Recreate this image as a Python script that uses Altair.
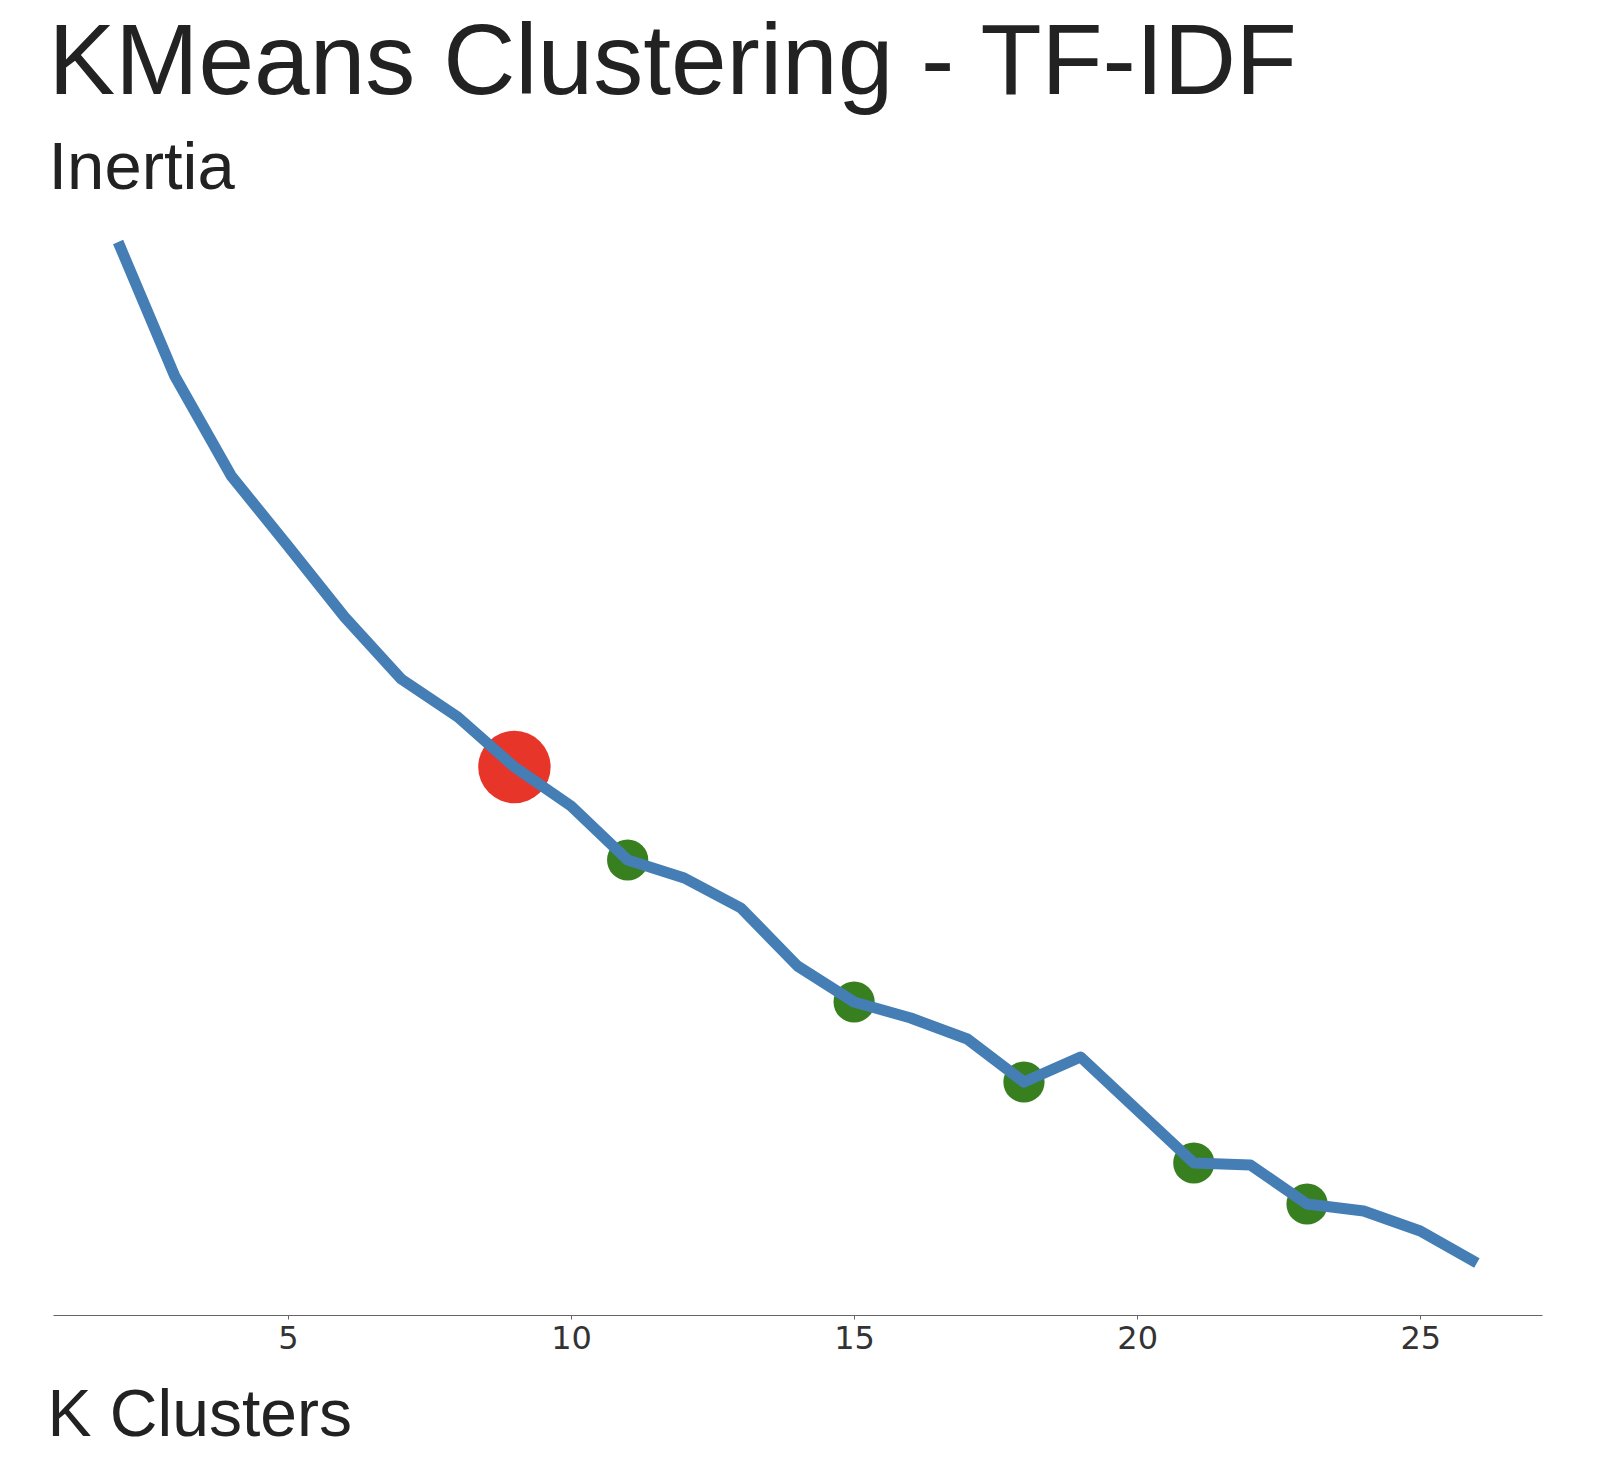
import altair as alt
import pandas as pd

# Data
k_values = list(range(2, 27))
inertia = [4073, 3939, 3839, 3769, 3698, 3636, 3598, 3548, 3509, 3455, 3437, 3407,
           3349, 3313, 3297, 3276, 3233, 3258, 3205, 3152, 3150, 3111, 3104, 3084, 3052]
best_k = [9]
candidate_k = [11, 15, 18, 21, 23]

df = pd.DataFrame({"k": k_values, "inertia": inertia})
df["kind"] = ["best" if k in best_k else ("candidate" if k in candidate_k else "none") for k in k_values]

FONT = "Liberation Sans"

x_enc = alt.X(
    "k:Q",
    scale=alt.Scale(domain=[0.85, 27.15], nice=False, zero=False),
    axis=alt.Axis(
        values=[5, 10, 15, 20, 25],
        title="K Clusters",
        titleFont=FONT,
        titleFontSize=66,
        titleFontWeight="normal",
        titleColor="#222222",
        titleAlign="left",
        titleBaseline="alphabetic",
        titleX=-6,
        titleY=120,
        labelFont="DejaVu Sans",
        labelFontSize=32,
        labelColor="#333333",
        labelPadding=4,
        tickSize=4,
        tickColor="#666666",
        domainColor="#666666",
        domainWidth=1.2,
        grid=False,
    ),
)
y_enc = alt.Y(
    "inertia:Q",
    scale=alt.Scale(domain=[3000, 4114], nice=False, zero=False),
    axis=None,
)

best_points = alt.Chart(df).transform_filter(
    alt.datum.kind == "best"
).mark_circle(opacity=1, color="#e8352a", size=5250).encode(x=x_enc, y=y_enc)

cand_points = alt.Chart(df).transform_filter(
    alt.datum.kind == "candidate"
).mark_circle(opacity=1, color="#38801f", size=1700).encode(x=x_enc, y=y_enc)

line = alt.Chart(df).mark_line(color="#447eb5", strokeWidth=11, strokeJoin="round").encode(
    x=x_enc,
    y=y_enc,
)

chart = alt.layer(best_points, cand_points, line).properties(
    width=1489,
    height=1114,
    padding={"left": 53, "top": 201, "right": 74, "bottom": 157},
    autosize=alt.AutoSizeParams(type="none"),
    background="white",
    title=alt.Title(
        "KMeans Clustering - TF-IDF",
        subtitle="Inertia",
        anchor="start",
        dx=1.5,
        offset=-2,
        font=FONT,
        fontSize=100,
        fontWeight="normal",
        color="#222222",
        subtitleFont=FONT,
        subtitleFontSize=67,
        subtitleColor="#222222",
        subtitlePadding=21,
    ),
).configure_view(stroke=None)

chart.save("out.html", embed_options={"renderer": "svg", "actions": False})
